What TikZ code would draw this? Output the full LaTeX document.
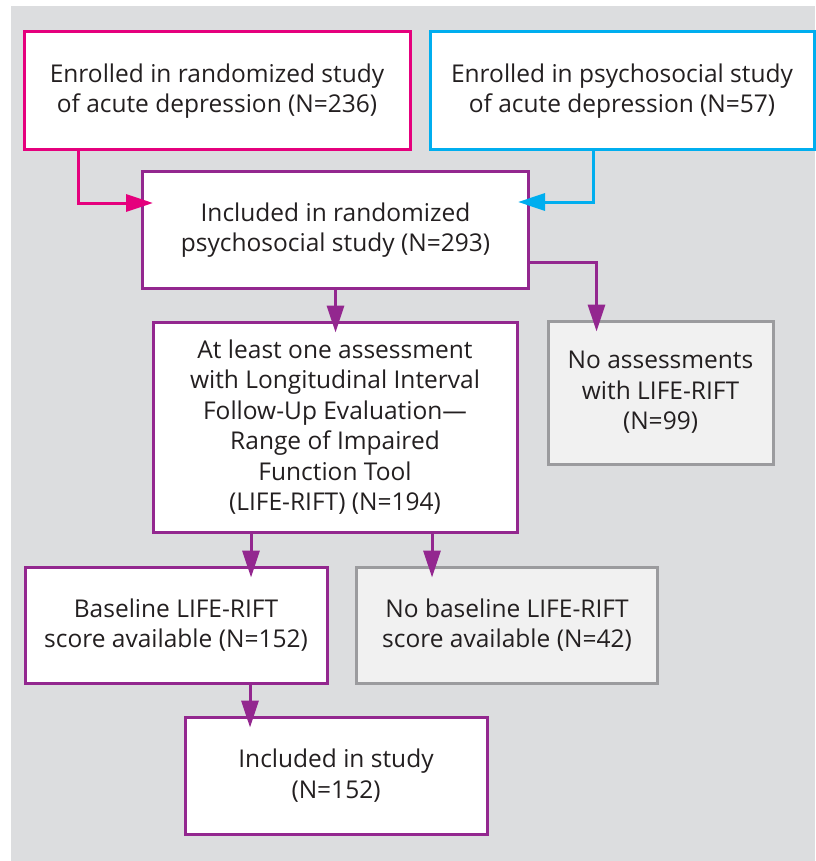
\documentclass[tikz,border=0pt]{standalone}
\usepackage{fontspec}
\setmainfont{Open Sans}
\usetikzlibrary{arrows.meta,calc,positioning}
\definecolor{hotpink}{RGB}{229,0,125}
\definecolor{skycyan}{RGB}{0,174,239}
\definecolor{plum}{RGB}{147,39,143}
\definecolor{ashgray}{RGB}{155,155,158}
\definecolor{paperwhite}{RGB}{241,241,241}
\definecolor{panelgray}{RGB}{220,221,223}
\definecolor{inkblack}{RGB}{35,31,32}
\tikzset{
  caja/.style={
    draw=plum,
    fill=white,
    line width=3pt,
    align=center,
    inner sep=0pt,
    text=inkblack,
    font=\fontsize{24.5}{30.5}\selectfont
  },
  fuera/.style={
    caja,
    draw=ashgray,
    fill=paperwhite
  },
  arrow/.style={
    -{Triangle[length=27pt,width=17pt]},
    line width=3pt,
    plum,
    shorten >=-12pt
  }
}

\begin{document}
\begin{tikzpicture}[x=1pt,y=-1pt]
\useasboundingbox (0,0) rectangle (815,861);
\fill[panelgray] (11,6) rectangle (815,861);
% top row
\node[caja, draw=hotpink, minimum width=386pt, minimum height=118pt] (rand) at (217,91) {Enrolled in randomized study\\of acute depression (N=236)};
\node[caja, draw=skycyan, minimum width=384pt, minimum height=118pt] (psy) at (622,91) {Enrolled in psychosocial study\\of acute depression (N=57)};
% main column
\node[caja, minimum width=386pt, minimum height=116pt] (incl) at (335.5,230) {Included in randomized\\psychosocial study (N=293)};
\node[caja, minimum width=364pt, minimum height=210pt] (life) at (335,427) {At least one assessment\\with Longitudinal Interval\\Follow-Up Evaluation---\\Range of Impaired\\Function Tool\\(LIFE-RIFT) (N=194)};
\node[fuera, minimum width=225pt, minimum height=143pt] (noass) at (660.5,392.5) {No assessments\\with LIFE-RIFT\\(N=99)};
\node[caja, minimum width=302pt, minimum height=116pt] (base) at (176,625) {Baseline LIFE-RIFT\\score available (N=152)};
\node[fuera, minimum width=301pt, minimum height=116pt] (nobase) at (507,625) {No baseline LIFE-RIFT\\score available (N=42)};
\node[caja, minimum width=302pt, minimum height=117pt] (final) at (336,775.5) {Included in study\\(N=152)};
% connectors
\draw[arrow, hotpink] ([xshift=-139pt]rand.south) |- ([yshift=27pt]incl.west);
\draw[arrow, skycyan] ([xshift=-29pt]psy.south) |- ([yshift=28pt]incl.east);
\draw[arrow] (incl.south) -- (incl.south |- life.north);
\draw[arrow] ([yshift=-32pt]incl.east) -| ([xshift=-64pt]noass.north);
\draw[arrow] ([xshift=75pt]base.north |- life.south) -- ([xshift=75pt]base.north);
\draw[arrow] ([xshift=-75pt]nobase.north |- life.south) -- ([xshift=-75pt]nobase.north);
\draw[arrow] ([xshift=74pt]base.south) -- ([xshift=74pt]base.south |- final.north);
\end{tikzpicture}
\end{document}
